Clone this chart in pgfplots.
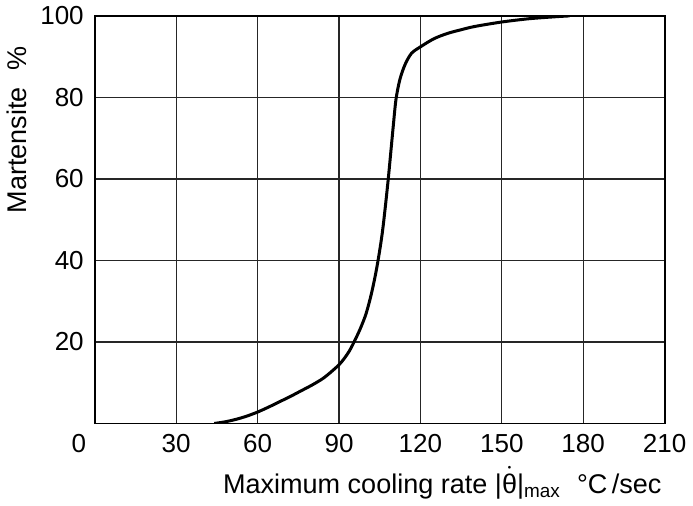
\documentclass[border=0pt]{standalone}
\usepackage{fontspec}
\setmainfont{Liberation Sans}
\usepackage{pgfplots}
\pgfplotsset{compat=1.18}
\newcommand{\thetadot}{$\dot{\hbox{θ}}$}
\begin{document}
\begin{tikzpicture}
\begin{axis}[
  scale only axis,
  width=284.5pt, height=203.5pt,
  xmin=0, xmax=210, ymin=0, ymax=100,
  xtick={30,60,...,210}, ytick={20,40,...,100},
  extra x ticks={0}, extra x tick labels={0},
  extra x tick style={grid=none, xticklabel style={xshift=-8pt}},
  grid=major,
  major grid style={black!85, line width=0.6pt},
  axis line style={black, line width=0.9pt},
  major tick length=0pt,
  /pgf/number format/assume math mode=true,
  tick label style={font=\fontsize{13}{15}\selectfont},
  label style={font=\fontsize{13.5}{15}\selectfont},
  xticklabel style={yshift=-2pt},
  yticklabel style={xshift=-2pt},
  ylabel={Martensite\hspace{0.6em}\%},
  ylabel style={at={(ticklabel cs:0.72)}},
  xlabel={Maximum cooling rate |\thetadot|\textsubscript{max}\hspace{0.6em}°C\,/sec},
  xlabel style={at={(ticklabel cs:1)}, anchor=north east, xshift=2pt, yshift=0pt},
]
\addplot[black, line width=1.5pt, smooth, tension=0.5] coordinates {
(44,0) (48,0.4) (52,1.0) (56,1.8) (60,2.8) (64,4.0) (68,5.3) (72,6.6)
(76,8.0) (80,9.4) (84,11.0) (87,12.6) (90,14.4) (92,16.0) (94,18.0)
(96,20.6) (98,23.5) (100,27.0) (102,32.0) (104,38.5) (106,47) (108,59) (110,73)
(111,79.5) (112.4,84.3) (114.3,88) (116.7,90.8) (120,92.4)
(125,94.4) (130,95.7) (135,96.6) (140,97.4) (150,98.5) (160,99.3)
(170,99.8) (175,100)
};
\end{axis}
\end{tikzpicture}
\end{document}
